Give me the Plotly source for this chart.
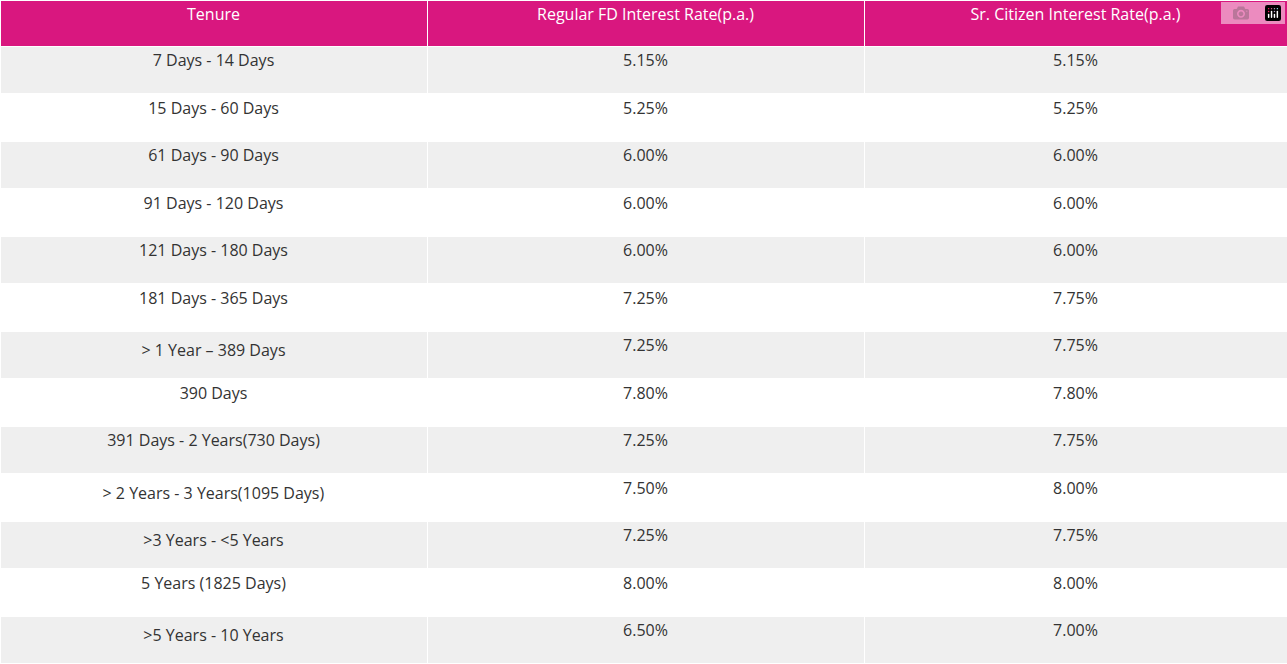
import plotly.graph_objects as go

tenure = [
    "7 Days - 14 Days", "15 Days - 60 Days", "61 Days - 90 Days", "91 Days - 120 Days",
    "121 Days - 180 Days", "181 Days - 365 Days", "&gt; 1 Year – 389 Days", "390 Days",
    "391 Days - 2 Years(730 Days)", "&gt; 2 Years - 3 Years(1095 Days)",
    "&gt;3 Years - &lt;5 Years", "5 Years (1825 Days)", "&gt;5 Years - 10 Years",
]
regular_rate = ["5.15%", "5.25%", "6.00%", "6.00%", "6.00%", "7.25%", "7.25%",
                "7.80%", "7.25%", "7.50%", "7.25%", "8.00%", "6.50%"]
senior_rate = ["5.15%", "5.25%", "6.00%", "6.00%", "6.00%", "7.75%", "7.75%",
               "7.80%", "7.75%", "8.00%", "7.75%", "8.00%", "7.00%"]
headers = ["Tenure", "Regular FD Interest Rate(p.a.)", "Sr. Citizen Interest Rate(p.a.)"]

row_fill = ["#efefef" if i % 2 == 0 else "#ffffff" for i in range(len(tenure))]

fig = go.Figure(go.Table(
    columnwidth=[427, 437, 423],
    header=dict(
        values=headers,
        fill_color="#d9177f",
        line=dict(color="#ffffff", width=1),
        font=dict(family="Open Sans", size=16, color="#ffffff"),
        align="center",
        height=46,
    ),
    cells=dict(
        values=[tenure, regular_rate, senior_rate],
        fill_color=[row_fill] * 3,
        line=dict(color="#ffffff", width=1),
        font=dict(family="Open Sans", size=16, color="#333333"),
        align="center",
        height=47.5,
    ),
))
fig.update_layout(width=1287, height=664, margin=dict(l=0, r=0, t=0, b=0),
                  paper_bgcolor="#ffffff")
fig.write_html("out.html", post_script="document.body.style.margin='0';")
